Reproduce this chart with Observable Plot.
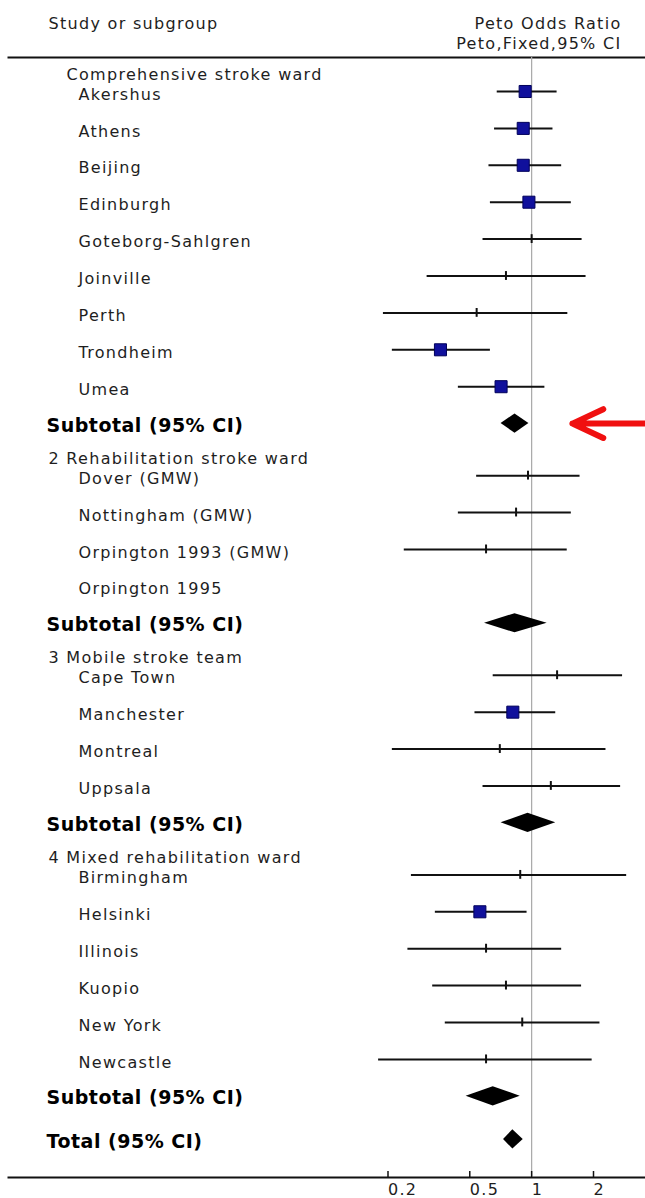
<!DOCTYPE html>
<html>
<head>
<meta charset="utf-8">
<script src="https://cdn.jsdelivr.net/npm/d3@7"></script>
<script src="https://cdn.jsdelivr.net/npm/@observablehq/plot@0.6"></script>
<style>
  html, body { margin: 0; padding: 0; background: #fff; }
  #chart svg text { letter-spacing: 1.3px; }
  #chart g[font-weight="bold"] text { letter-spacing: 0.5px; }
</style>
</head>
<body>
<div id="chart"></div>
<script>
// Subgroups of trials
const groups = [
  "Comprehensive stroke ward",
  "2 Rehabilitation stroke ward",
  "3 Mobile stroke team",
  "4 Mixed rehabilitation ward"
];

// Individual trials, their subgroup index and Peto odds ratio with 95% CI
const studies = [
  "Akershus", "Athens", "Beijing", "Edinburgh", "Goteborg-Sahlgren", "Joinville", "Perth", "Trondheim", "Umea",
  "Dover (GMW)", "Nottingham (GMW)", "Orpington 1993 (GMW)", "Orpington 1995",
  "Cape Town", "Manchester", "Montreal", "Uppsala",
  "Birmingham", "Helsinki", "Illinois", "Kuopio", "New York", "Newcastle"
];
const studyGroup = [0,0,0,0,0,0,0,0,0, 1,1,1,1, 2,2,2,2, 3,3,3,3,3,3];
const oddsRatio = [0.93, 0.91, 0.91, 0.97, 1.00, 0.75, 0.54, 0.36, 0.71,
                   0.96, 0.84, 0.60, null,
                   1.33, 0.81, 0.70, 1.24,
                   0.88, 0.56, 0.60, 0.75, 0.90, 0.60];
const ciLower   = [0.68, 0.66, 0.62, 0.63, 0.58, 0.31, 0.19, 0.21, 0.44,
                   0.54, 0.44, 0.24, null,
                   0.65, 0.53, 0.21, 0.58,
                   0.26, 0.34, 0.25, 0.33, 0.38, 0.18];
const ciUpper   = [1.33, 1.27, 1.40, 1.56, 1.76, 1.84, 1.50, 0.63, 1.16,
                   1.72, 1.56, 1.49, null,
                   2.77, 1.31, 2.30, 2.71,
                   2.90, 0.95, 1.40, 1.75, 2.15, 1.97];
// Trials heavy enough to be drawn with a weight box
const boxedStudies = ["Akershus", "Athens", "Beijing", "Edinburgh", "Trondheim", "Umea", "Manchester", "Helsinki"];

// Pooled estimates per subgroup and overall
const subtotalOR    = [0.83, 0.83, 0.96, 0.65];
const subtotalLower = [0.71, 0.59, 0.71, 0.48];
const subtotalUpper = [0.97, 1.19, 1.31, 0.88];
const totalOR = 0.81, totalLower = 0.73, totalUpper = 0.91;

const xTicks = [0.2, 0.5, 1, 2];
const subtotalLabel = "Subtotal (95% CI)";
const totalLabel = "Total (95% CI)";

// Annotation arrow pointing at the first subtotal (odds-ratio units)
const arrowFrom = 8, arrowTo = 1.58;

// ---- row layout (one unit per table row) ----
const ROW_PX = 36.9;      // pixel height of one row
const GROUP_GAP = 0.41;   // extra room taken by a subgroup heading
const TOTAL_GAP = 0.17;   // extra room before the overall total
const DIAMOND_H = 0.26;   // half height of the pooled diamonds
const TICK_H = 0.12;      // half height of the point-estimate tick

const rows = [];
let r = 0;
groups.forEach((g, gi) => {
  if (gi > 0) r += GROUP_GAP;
  rows.push({kind: "group", label: g, row: r, numbered: /^\d/.test(g)});
  studies.forEach((s, i) => {
    if (studyGroup[i] !== gi) return;
    rows.push({kind: "study", label: s, row: r, est: oddsRatio[i], lo: ciLower[i], hi: ciUpper[i],
               boxed: boxedStudies.includes(s)});
    r += 1;
  });
  rows.push({kind: "subtotal", key: "s" + gi, label: subtotalLabel, row: r,
             est: subtotalOR[gi], lo: subtotalLower[gi], hi: subtotalUpper[gi]});
  r += 1;
});
r += TOTAL_GAP;
rows.push({kind: "total", key: "t", label: totalLabel, row: r, est: totalOR, lo: totalLower, hi: totalUpper});
const lastRow = r;

const studyRows = rows.filter(d => d.kind === "study");
const estimable = studyRows.filter(d => d.est != null);
const pooled = rows.filter(d => d.kind === "subtotal" || d.kind === "total");
const diamonds = pooled.flatMap(d => [
  {key: d.key, x: d.lo,  y1: d.row, y2: d.row},
  {key: d.key, x: d.est, y1: d.row - DIAMOND_H, y2: d.row + DIAMOND_H},
  {key: d.key, x: d.hi,  y1: d.row, y2: d.row}
]);
const firstSubtotal = pooled.filter(d => d.key === "s0");

const FONT = "'DejaVu Sans', sans-serif";
const ink = "#1e1e1e";
const ML = 8;

const chart = Plot.plot({
  width: 645,
  height: 1198,
  marginTop: 57,
  marginBottom: 21,
  marginLeft: ML,
  marginRight: 0,
  style: `font-family: ${FONT}; font-size: 16px; background: #fff; color: ${ink};`,
  x: {type: "log", domain: [0.2, 2], range: [387.5, 593]},
  y: {domain: [0, lastRow], range: [91, 91 + lastRow * ROW_PX], axis: null},
  marks: [
    // column headings
    Plot.text(["Study or subgroup"], {frameAnchor: "top-left", dx: 48 - ML, dy: -34,
      lineAnchor: "middle", textAnchor: "start", fontSize: 16, fill: ink}),
    Plot.text(["Peto Odds Ratio\nPeto,Fixed,95% CI"], {frameAnchor: "top-right", dx: -24, dy: -25,
      lineAnchor: "middle", textAnchor: "end", lineHeight: 1.25, fontSize: 16, fill: ink}),
    Plot.frame({anchor: "top", stroke: "#111", strokeWidth: 2}),
    Plot.frame({anchor: "bottom", stroke: "#111", strokeWidth: 2}),

    // line of no effect
    Plot.ruleX([1], {stroke: "#a8a8a8", strokeWidth: 1.2}),

    // row labels
    Plot.text(rows.filter(d => d.kind === "group" && !d.numbered), {text: "label", y: "row",
      frameAnchor: "left", dx: 66 - ML, dy: -17, textAnchor: "start", fontSize: 16, fill: ink}),
    Plot.text(rows.filter(d => d.kind === "group" && d.numbered), {text: "label", y: "row",
      frameAnchor: "left", dx: 48 - ML, dy: -17, textAnchor: "start", fontSize: 16, fill: ink}),
    Plot.text(studyRows, {text: "label", y: "row",
      frameAnchor: "left", dx: 78 - ML, dy: 3, textAnchor: "start", fontSize: 16, fill: ink}),
    Plot.text(pooled, {text: "label", y: "row",
      frameAnchor: "left", dx: 46 - ML, dy: 2, textAnchor: "start", fontSize: 19, fontWeight: "bold", fill: "#000"}),

    // confidence intervals and point estimates
    Plot.ruleY(estimable, {y: "row", x1: "lo", x2: "hi", stroke: "#111", strokeWidth: 2}),
    Plot.ruleX(estimable, {x: "est", y1: d => d.row - TICK_H, y2: d => d.row + TICK_H, stroke: "#111", strokeWidth: 2}),
    Plot.dot(estimable.filter(d => d.boxed), {x: "est", y: "row", symbol: "square", r: 6.8,
      fill: "#10109c", stroke: "#00005a", strokeWidth: 1}),

    // pooled diamonds
    Plot.areaY(diamonds, {x: "x", y1: "y1", y2: "y2", z: "key", fill: "#000"}),

    // axis
    Plot.axisX({ticks: xTicks, tickFormat: d => String(d), tickSize: -6, tickPadding: 12,
      textAnchor: "start", fontSize: 16, stroke: "#111", strokeWidth: 1.5, fill: ink, label: null}),

    // annotation arrow
    Plot.arrow(firstSubtotal, {x1: () => arrowFrom, x2: () => arrowTo, y1: "row", y2: "row",
      stroke: "#f01010", strokeWidth: 6, headLength: 8.5, headAngle: 50,
      strokeLinecap: "round", strokeLinejoin: "round"})
  ]
});

document.getElementById("chart").appendChild(chart);
</script>
</body>
</html>
